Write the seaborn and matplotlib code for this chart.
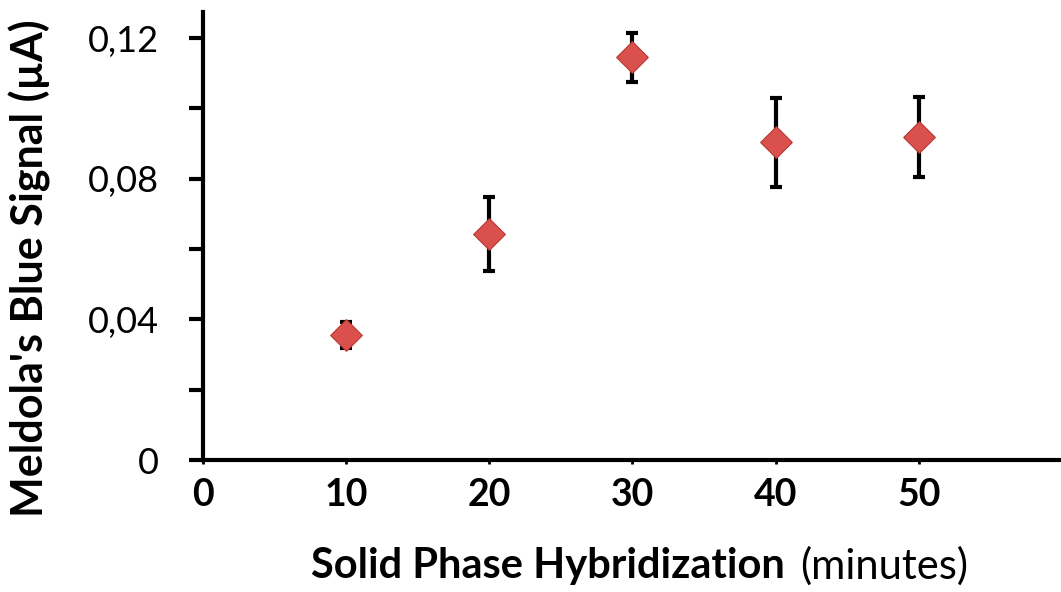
import matplotlib
matplotlib.use("Agg")
import matplotlib.pyplot as plt
import seaborn as sns
import pandas as pd
from matplotlib.ticker import FuncFormatter, MultipleLocator

time_min = [10, 20, 30, 40, 50]
signal_uA = [0.0355, 0.0642, 0.1145, 0.0903, 0.0918]
error_uA = [0.0037, 0.0105, 0.0070, 0.0126, 0.0113]
x_ticks = [0, 10, 20, 30, 40, 50]

sns.set_style("white")
plt.rcParams['font.family'] = ['Lato', 'DejaVu Sans']
plt.rcParams['text.color'] = 'black'
plt.rcParams['xtick.color'] = 'black'
plt.rcParams['ytick.color'] = 'black'

df = pd.DataFrame({"t": time_min, "s": signal_uA, "e": error_uA})

W, H = 1061, 592
fig = plt.figure(figsize=(W / 100, H / 100), dpi=100)
ax = fig.add_axes([203 / W, 1 - 460 / H, (1059 - 203) / W, (460 - 12) / H])

ax.errorbar(df["t"], df["s"], yerr=df["e"], fmt="none", ecolor="black",
            elinewidth=3, capsize=4, capthick=3, zorder=2)
sns.scatterplot(data=df, x="t", y="s", marker="D", s=260, color="#d9504c",
                edgecolor="#b53a36", linewidth=0.8, ax=ax, zorder=3)

ax.set_xlim(0, 59.8)
ax.set_ylim(0, 0.1274)
ax.set_xticks(x_ticks)
ax.yaxis.set_major_locator(MultipleLocator(0.04))
ax.yaxis.set_minor_locator(MultipleLocator(0.02))
ax.yaxis.set_major_formatter(FuncFormatter(lambda v, p: "0" if v == 0 else f"{v:.2f}".replace(".", ",")))

for side in ["top", "right"]:
    ax.spines[side].set_visible(False)
for side in ["left", "bottom"]:
    ax.spines[side].set_linewidth(3)
    ax.spines[side].set_color("black")

ax.tick_params(axis="y", which="both", direction="out", length=10, width=3,
               left=True, labelsize=26, pad=22, labelcolor="black", color="black")
ax.tick_params(axis="x", which="major", direction="out", length=3, width=2,
               bottom=True, labelsize=27, pad=10, labelcolor="black", color="black")
for lbl in ax.get_xticklabels():
    lbl.set_fontweight("bold")
ax.set_xlabel("")
ax.set_ylabel("")

fig.text(30 / W, 1 - 268 / H, "Meldola's Blue Signal (\u00b5A)", rotation=90,
         ha="center", va="center", fontsize=31, fontweight="bold", color="black")
fig.text(785 / W, 1 - 566 / H, "Solid Phase Hybridization", ha="right", va="center",
         fontsize=30, fontweight="bold", color="black")
fig.text(800 / W, 1 - 566 / H, "(minutes)", ha="left", va="center",
         fontsize=30, fontweight="normal", color="black")

fig.savefig("out.png", dpi=100)
